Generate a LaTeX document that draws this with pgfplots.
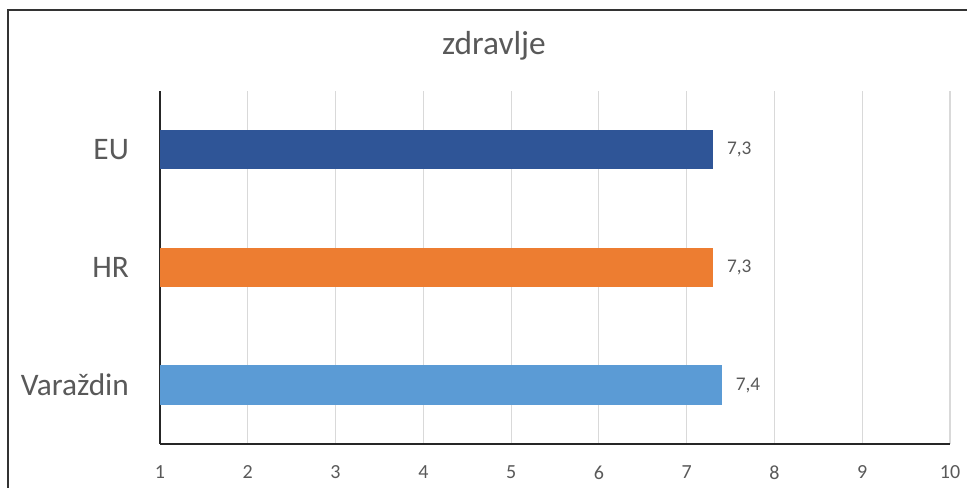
\documentclass[border=0pt]{standalone}
\usepackage{pgfplots}
\pgfplotsset{compat=1.18}
\usepackage{fontspec}
\setmainfont{Carlito}
\definecolor{cEU}{HTML}{2F5597}
\definecolor{cHR}{HTML}{ED7D31}
\definecolor{cVZ}{HTML}{5B9BD5}
\definecolor{txt}{HTML}{595959}
\definecolor{grd}{HTML}{D9D9D9}
\begin{document}
\begin{tikzpicture}[x=0.75pt,y=0.75pt]
\useasboundingbox (0,0) rectangle (967,488);
% outer frame (cropped at right and bottom)
\draw[line width=1.2pt, color=black!80] (8,-10) -- (8,478) -- (980,478);
\node[font=\fontsize{25}{30}\selectfont, text=txt, anchor=base, inner sep=0pt] at (494,433) {zdravlje};
\begin{axis}[
    at={(160*0.75pt,44*0.75pt)}, anchor=south west,
    scale only axis,
    width=592.5pt, height=264.75pt,
    xbar, bar width=29.5pt, bar shift=0pt,
    xmin=1, xmax=10,
    ymin=-0.5, ymax=2.5,
    xtick={1,...,10},
    ytick={0,1,2},
    yticklabels={Varaždin,HR,EU},
    axis x line=bottom, axis y line=left,
    axis line style={-, line width=0.9pt, black!85},
    tick style={draw=none},
    xmajorgrids=true,
    grid style={grd, line width=0.8pt},
    tick label style={text=txt},
    xticklabel style={font=\fontsize{15}{18}\selectfont, inner sep=0pt, anchor=north, yshift=-14pt},
    yticklabel style={font=\fontsize{23.5}{28}\selectfont, inner sep=0pt, anchor=east, xshift=-21pt},
    /pgf/number format/assume math mode=true,
    nodes near coords,
    nodes near coords style={font=\fontsize{14.5}{18}\selectfont, text=txt, anchor=west, xshift=7pt,
        /pgf/number format/.cd, fixed, precision=1, zerofill, use comma},
    point meta=x,
]
\addplot[fill=cEU, draw=none] coordinates {(7.3,2)};
\addplot[fill=cHR, draw=none] coordinates {(7.3,1)};
\addplot[fill=cVZ, draw=none] coordinates {(7.4,0)};
\end{axis}
\end{tikzpicture}
\end{document}
